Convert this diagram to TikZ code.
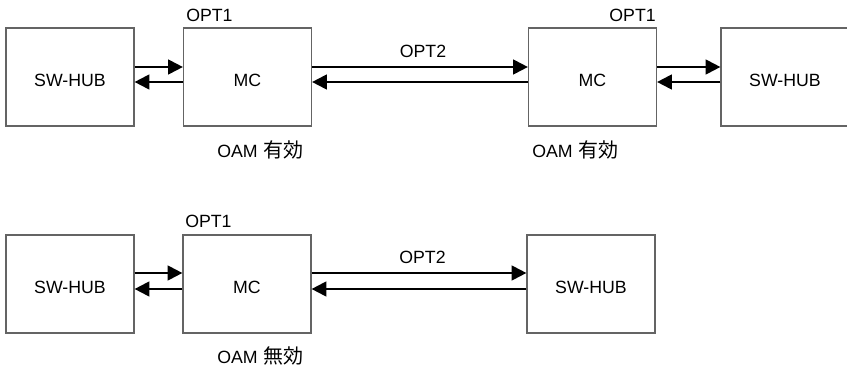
\documentclass[tikz,border=0pt]{standalone}
\usepackage{fontspec}
\setmainfont{Liberation Sans}
\newfontfamily\cjk{Noto Sans CJK JP}
\usetikzlibrary{arrows.meta}
\definecolor{boxgray}{RGB}{100,100,100}
\newcommand{\jp}[1]{{\cjk\fontsize{15}{17}\selectfont #1}}
\begin{document}
\begin{tikzpicture}[x=0.75pt,y=-0.75pt,
  box/.style={draw=boxgray, line width=0.9pt, minimum width=96pt, minimum height=73.5pt, inner sep=0pt, text height=13.8pt, text depth=0pt, font=\fontsize{13.3}{15}\selectfont},
  lbl/.style={font=\fontsize{13.3}{15}\selectfont, inner sep=0pt},
  arr/.style={line width=1.6pt, -{Triangle[length=11pt,width=11pt]}}]
\useasboundingbox (0,0) rectangle (847,366);
% top row
\node[box] (hub1) at (70,77) {SW-HUB};
\node[box] (mc1) at (247.5,77) {MC};
\node[box] (mc2) at (592.5,77) {MC};
\node[box] (hub2) at (785,77) {SW-HUB};
% bottom row
\node[box] (hub3) at (70,284) {SW-HUB};
\node[box] (mc3) at (247,284) {MC};
\node[box] (hub4) at (591,284) {SW-HUB};
% labels
\node[lbl, anchor=base west] (l1) at (186,21.5) {OPT1};
\node[lbl, anchor=base east] (l2) at (656,21.5) {OPT1};
\node[lbl, anchor=base] (l3) at (423,58) {OPT2};
\node[lbl, anchor=base west] (l4) at (217,158) {OAM\hspace{0.35em}\jp{有効}};
\node[lbl, anchor=base west] (l5) at (532,158) {OAM\hspace{0.35em}\jp{有効}};
\node[lbl, anchor=base west] (l6) at (185,228) {OPT1};
\node[lbl, anchor=base] (l7) at (422.5,264) {OPT2};
\node[lbl, anchor=base west] (l8) at (217,364) {OAM\hspace{0.35em}\jp{無効}};
% connectors top
\draw[arr] ([yshift=7.5pt]hub1.east) -- ([yshift=7.5pt]mc1.west);
\draw[arr] ([yshift=-3.75pt]mc1.west) -- ([yshift=-3.75pt]hub1.east);
\draw[arr] ([yshift=7.5pt]mc1.east) -- ([yshift=7.5pt]mc2.west);
\draw[arr] ([yshift=-3.75pt]mc2.west) -- ([yshift=-3.75pt]mc1.east);
\draw[arr] ([yshift=7.5pt]mc2.east) -- ([yshift=7.5pt]hub2.west);
\draw[arr] ([yshift=-3.75pt]hub2.west) -- ([yshift=-3.75pt]mc2.east);
% connectors bottom
\draw[arr] ([yshift=8.25pt]hub3.east) -- ([yshift=8.25pt]mc3.west);
\draw[arr] ([yshift=-3.75pt]mc3.west) -- ([yshift=-3.75pt]hub3.east);
\draw[arr] ([yshift=8.25pt]mc3.east) -- ([yshift=8.25pt]hub4.west);
\draw[arr] ([yshift=-3.75pt]hub4.west) -- ([yshift=-3.75pt]mc3.east);
\end{tikzpicture}
\end{document}
